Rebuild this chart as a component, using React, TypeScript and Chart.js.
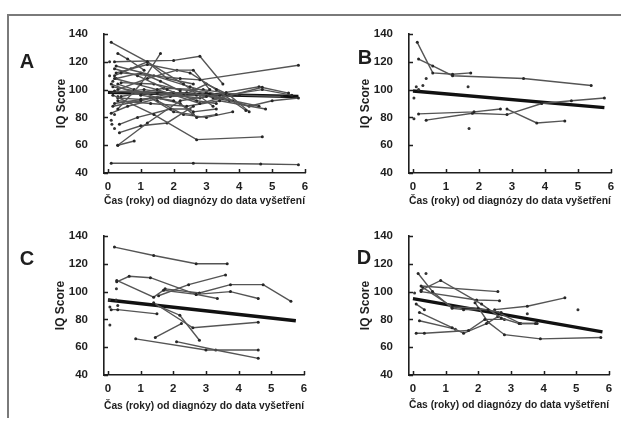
import React, { useEffect, useRef } from 'react';
import { Chart, registerables } from 'chart.js';
Chart.register(...registerables);

type P = [number, number];

const xTickValues = [0, 1, 2, 3, 4, 5, 6];
const yTickValues = [40, 60, 80, 100, 120, 140];
const xTitle = 'Čas (roky) od diagnózy do data vyšetření';
const yTitle = 'IQ Score';
const panelLetters = ['A', 'B', 'C', 'D'];

// Panel A – individual trajectories
const aLines: P[][] = [
  [[0.1, 134], [1.2, 120], [2.3, 104], [3.2, 88]],
  [[0.2, 120], [2.0, 121], [2.8, 124], [3.5, 104]],
  [[0.3, 86], [1.0, 104], [1.6, 126]],
  [[0.1, 47], [2.6, 47], [4.65, 46.5], [5.8, 46]],
  [[0.15, 96], [1.4, 82], [2.7, 64], [4.7, 66]],
  [[0.3, 60], [0.8, 63]],
  [[0.3, 60], [1.2, 76], [2.2, 92], [3.0, 95]],
  [[0.35, 69], [1.0, 74], [1.8, 76], [2.6, 88]],
  [[0.4, 112], [2.2, 108], [2.8, 107], [5.8, 117.5]],
  [[0.2, 108], [1.5, 100], [2.8, 90], [4.7, 101.7]],
  [[0.25, 112], [1.2, 118], [2.5, 112], [3.3, 100], [4.2, 85]],
  [[0.2, 99], [1.5, 97], [2.8, 94], [3.6, 98], [4.6, 102], [5.5, 97.5]],
  [[0.3, 92], [1.3, 90], [2.4, 88], [3.4, 92], [4.8, 86]],
  [[0.1, 104], [1.0, 96], [2.0, 92], [2.6, 84], [3.3, 86]],
  [[0.2, 115], [0.9, 110], [1.8, 100], [2.7, 92], [3.3, 90]],
  [[0.3, 100], [1.2, 108], [2.1, 114], [2.6, 114], [3.1, 100]],
  [[0.15, 88], [1.0, 92], [2.0, 98], [3.1, 96], [3.8, 92], [4.6, 88]],
  [[0.3, 104], [0.8, 100], [1.5, 94], [2.2, 90], [2.7, 80], [3.3, 82]],
  [[0.25, 117], [1.4, 110], [2.5, 102], [3.4, 96]],
  [[0.1, 83], [0.6, 88], [1.6, 94], [2.4, 98]],
  [[0.4, 95], [1.7, 101], [2.9, 100], [4.0, 96], [5.3, 95]],
  [[0.2, 110], [0.7, 115], [1.2, 120], [1.8, 108], [2.6, 104]],
  [[0.35, 75], [0.9, 80], [1.9, 86], [2.5, 86]],
  [[0.15, 102], [1.1, 98], [2.3, 96], [3.0, 104], [3.7, 96], [4.3, 84]],
  [[0.3, 94], [1.0, 93], [1.9, 95], [2.7, 96], [3.5, 94], [4.3, 88], [5.0, 92], [5.8, 94]],
  [[0.2, 90], [1.3, 94], [2.0, 84], [2.6, 82]],
  [[0.4, 105], [1.4, 104], [2.2, 100], [3.0, 98]],
  [[0.1, 98], [1.1, 100], [2.4, 96], [3.6, 96], [4.7, 100], [5.6, 96]],
  [[0.25, 108], [1.0, 112], [1.6, 106], [2.2, 99]],
  [[2.6, 100], [3.2, 94], [3.7, 92]],
  [[1.5, 92], [2.3, 82], [3.0, 80], [3.8, 84]],
  [[0.3, 126], [0.6, 122], [1.1, 114]],
];
const aPoints: P[] = [[0.05, 120], [0.1, 78], [0.12, 75], [0.2, 72], [0.2, 82], [0.15, 106], [0.05, 110], [0.3, 95]];
const aFit: P[] = [[0, 98], [5.8, 95]];

// Panel B
const bLines: P[][] = [
  [[0.13, 134], [0.6, 112], [1.2, 111], [1.75, 112]],
  [[0.17, 122], [0.6, 117], [1.2, 110], [3.35, 108], [5.4, 103]],
  [[0.17, 82.5], [1.85, 84], [2.65, 86]],
  [[0.4, 78], [1.8, 83], [2.85, 82], [3.9, 90], [4.8, 92], [5.8, 94]],
  [[2.85, 86], [3.75, 76], [4.6, 77.5]],
];
const bPoints: P[] = [[0.1, 102], [0.17, 100], [0.3, 103], [0.4, 108], [0.03, 94], [0.03, 79], [1.67, 102], [1.7, 72]];
const bFit: P[] = [[0, 99], [5.8, 87]];

// Panel C
const cLines: P[][] = [
  [[0.2, 132], [1.4, 126], [2.7, 120], [3.65, 120]],
  [[0.27, 107], [0.65, 111], [1.3, 110], [2.7, 98], [3.35, 95]],
  [[0.27, 108], [1.4, 96], [1.7, 101], [2.7, 98], [3.75, 100], [4.6, 95]],
  [[1.55, 97], [2.47, 105], [3.6, 112]],
  [[1.75, 102], [2.8, 99], [3.75, 105], [4.75, 105], [5.6, 93]],
  [[0.1, 87], [0.3, 87], [1.5, 84]],
  [[1.4, 92], [2.6, 74], [4.6, 78]],
  [[1.5, 90], [2.2, 83], [2.8, 65]],
  [[1.45, 67], [2.25, 77]],
  [[0.85, 66], [3.0, 58], [4.6, 58]],
  [[2.1, 64], [3.3, 58], [4.6, 52]],
];
const cPoints: P[] = [[0.26, 102], [0.06, 89], [0.06, 76], [0.25, 94], [0.05, 94], [0.3, 90]];
const cFit: P[] = [[0, 94], [5.75, 79]];

// Panel D
const dLines: P[][] = [
  [[0.16, 113], [0.6, 100], [1.2, 88], [1.55, 87], [2.3, 87]],
  [[0.25, 101], [0.85, 108], [2.1, 91], [2.7, 81], [3.25, 77], [3.75, 77]],
  [[0.25, 104], [2.6, 100]],
  [[0.25, 100], [1.95, 94], [2.65, 93.5]],
  [[0.3, 103], [1.2, 89], [2.0, 88], [2.7, 85]],
  [[2.5, 87], [3.5, 89.5], [4.65, 95.5]],
  [[0.1, 70], [0.35, 70], [1.7, 72], [2.2, 80], [2.8, 80]],
  [[0.2, 85], [1.2, 74], [1.55, 70], [2.25, 77], [2.6, 82]],
  [[0.1, 91], [0.35, 87]],
  [[0.2, 79], [1.3, 73]],
  [[1.9, 92], [2.3, 78], [2.8, 69], [3.9, 66], [5.75, 67]],
  [[2.6, 85], [3.3, 77], [3.8, 77]],
];
const dPoints: P[] = [[0.4, 113], [0.05, 99], [5.05, 87], [3.5, 84]];
const dFit: P[] = [[0, 95], [5.8, 71]];

const FONT = '"Liberation Sans", Arial, sans-serif';
const INK = '#1e1e1e';

type Geom = { left: number; right: number; top: number; bottom: number; yTitleX: number; xTitleY: number; letterX: number; letterY: number };
const geoms: Geom[] = [
  { left: 104, right: 305, top: 34, bottom: 173, yTitleX: 62, xTitleY: 201, letterX: 27, letterY: 61 },
  { left: 409, right: 611, top: 34, bottom: 173, yTitleX: 366, xTitleY: 201, letterX: 365, letterY: 57 },
  { left: 104, right: 304, top: 236, bottom: 375, yTitleX: 61, xTitleY: 406, letterX: 27, letterY: 258 },
  { left: 409, right: 609, top: 236, bottom: 375, yTitleX: 366, xTitleY: 405, letterX: 364, letterY: 257 },
];

const inwardTicks = {
  id: 'inwardTicks',
  afterDraw(chart: any) {
    const ctx = chart.ctx;
    const { x, y } = chart.scales;
    const area = chart.chartArea;
    ctx.save();
    ctx.strokeStyle = INK;
    ctx.lineWidth = 1.5;
    ctx.beginPath();
    x.ticks.forEach((t: any) => {
      const px = Math.round(x.getPixelForValue(t.value)) + 0.5;
      ctx.moveTo(px, area.bottom);
      ctx.lineTo(px, area.bottom - 4);
    });
    y.ticks.forEach((t: any) => {
      const py = Math.round(y.getPixelForValue(t.value)) + 0.5;
      ctx.moveTo(area.left, py);
      ctx.lineTo(area.left + 4, py);
    });
    ctx.stroke();
    ctx.restore();
  },
};

function Panel({ lines, points, fit, g }: { lines: P[][]; points: P[]; fit: P[]; g: Geom }) {
  const ref = useRef<HTMLCanvasElement>(null);
  useEffect(() => {
    const toXY = (arr: P[]) => arr.map(([x, y]) => ({ x, y }));
    const datasets: any[] = [
      ...lines.map((l) => ({
        data: toXY(l),
        showLine: true,
        borderColor: '#555555',
        borderWidth: 1.4,
        pointRadius: 1.5,
        pointBackgroundColor: '#262626',
        pointBorderWidth: 0,
        tension: 0,
      })),
      {
        data: toXY(points),
        showLine: false,
        pointRadius: 1.5,
        pointBackgroundColor: '#333',
        pointBorderWidth: 0,
      },
      {
        data: toXY(fit),
        showLine: true,
        borderColor: '#111',
        borderWidth: 3.4,
        pointRadius: 0,
        tension: 0,
      },
    ];
    const yTitleSize = 12;
    const xTitleSize = 10.5;
    const padLeft = g.yTitleX - (yTitleSize * 1.2) / 2;
    const scaleBottom = g.xTitleY + (xTitleSize * 1.2) / 2;
    const chart = new Chart(ref.current as HTMLCanvasElement, {
      type: 'scatter',
      data: { datasets },
      options: {
        animation: false,
        responsive: false,
        events: [],
        layout: { padding: { left: padLeft, right: 621 - g.right, top: g.top, bottom: 424 - scaleBottom } },
        plugins: { legend: { display: false }, tooltip: { enabled: false } },
        scales: {
          x: {
            type: 'linear',
            min: -0.12,
            max: 6,
            afterBuildTicks: (s: any) => {
              s.ticks = xTickValues.map((v) => ({ value: v }));
            },
            afterFit: (s: any) => {
              s.height = scaleBottom - g.bottom;
            },
            grid: { display: false },
            border: { display: true, color: INK, width: 1.6 },
            ticks: { padding: -1, color: INK, font: { family: FONT, size: 11.5, weight: 'bold' } },
            title: { display: true, text: xTitle, padding: 0, color: INK, font: { family: FONT, size: xTitleSize, weight: 'bold' } },
          },
          y: {
            type: 'linear',
            min: 40,
            max: 140,
            afterBuildTicks: (s: any) => {
              s.ticks = yTickValues.map((v) => ({ value: v }));
            },
            afterFit: (s: any) => {
              s.width = g.left - padLeft;
            },
            grid: { display: false },
            border: { display: true, color: INK, width: 1.6 },
            ticks: { padding: 8, color: INK, font: { family: FONT, size: 11.5, weight: 'bold' } },
            title: { display: true, text: yTitle, padding: 0, color: INK, font: { family: FONT, size: yTitleSize, weight: 'bold' } },
          },
        },
      } as any,
      plugins: [inwardTicks],
    });
    return () => chart.destroy();
  }, []);
  return <canvas ref={ref} width={621} height={424} style={{ position: 'absolute', left: 0, top: 0 }} />;
}

export default function App() {
  const panels = [
    { lines: aLines, points: aPoints, fit: aFit },
    { lines: bLines, points: bPoints, fit: bFit },
    { lines: cLines, points: cPoints, fit: cFit },
    { lines: dLines, points: dPoints, fit: dFit },
  ];
  return (
    <div style={{ position: 'absolute', left: 0, top: 0, width: 621, height: 424, background: '#fff', overflow: 'hidden' }}>
      <div style={{ position: 'absolute', left: 7, top: 14, width: 614, height: 402, borderTop: '2px solid #7a7a7a', borderLeft: '2px solid #7a7a7a' }} />
      {panels.map((p, i) => (
        <Panel key={i} lines={p.lines} points={p.points} fit={p.fit} g={geoms[i]} />
      ))}
      {panelLetters.map((l, i) => (
        <div
          key={l}
          style={{
            position: 'absolute',
            left: geoms[i].letterX - 12,
            top: geoms[i].letterY - 11,
            width: 24,
            lineHeight: '22px',
            textAlign: 'center',
            fontFamily: FONT,
            fontWeight: 'bold',
            fontSize: 20,
            color: INK,
          }}
        >
          {l}
        </div>
      ))}
    </div>
  );
}
